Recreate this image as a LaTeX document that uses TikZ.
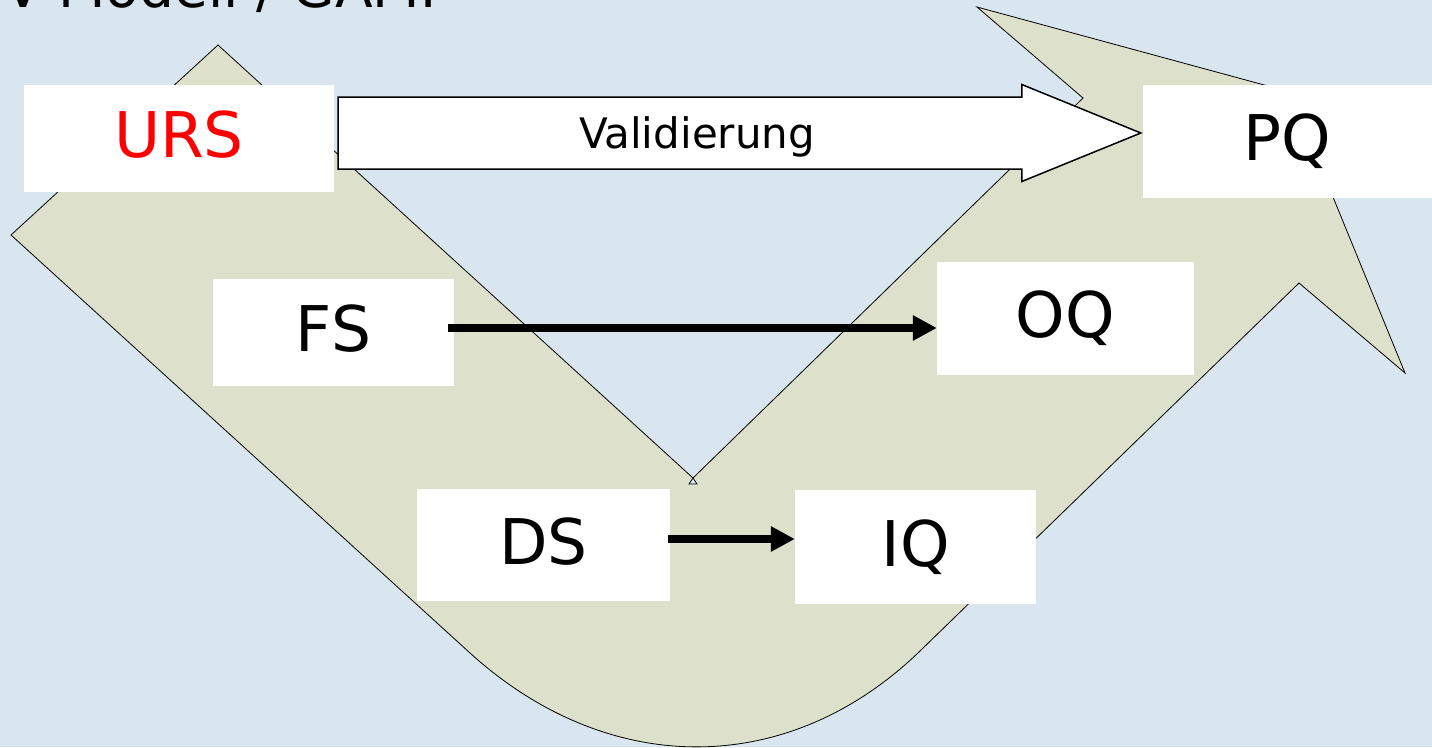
\documentclass[tikz,border=0pt]{standalone}
\usepackage{fontspec}
\setmainfont{DejaVu Sans}
\usetikzlibrary{arrows.meta,calc}
\definecolor{bgblue}{RGB}{217,229,239}
\definecolor{vband}{RGB}{221,225,203}
\definecolor{ursred}{RGB}{255,0,0}
\begin{document}
\begin{tikzpicture}[x=1pt,y=-1pt,
  box/.style={fill=white, inner sep=0pt, text depth=8pt,
    font=\fontsize{63}{70}\selectfont},
  flow/.style={line width=8pt, -{Triangle[length=24pt,width=24pt]}},
  valarrow/.style={draw=black, fill=white, line width=1.5pt, line join=miter},
  vshape/.style={fill=vband, draw=black, line width=0.8pt, even odd rule}]
\useasboundingbox (0,0) rectangle (1432,747);
\fill[bgblue] (0,0) rectangle (1432,747);
\clip (0,0) rectangle (1432,747);

% heading
\node[anchor=base west, inner sep=0pt, font=\fontsize{55}{60}\selectfont]
  (title) at (4,7.5) {V-Modell / GAMP};

% the V band with its arrow head
\draw[vshape] (218,45) -- (693,478) -- (697,484) -- (689,484) -- (693,478)
  -- (1083,98) -- (977,7) -- (1290,92) -- (1405,373) -- (1299,283)
  -- (920,651) .. controls (789,778) and (609,779) .. (470,653)
  -- (11,235) -- cycle;

% specification and qualification boxes
\node[box, minimum width=310pt, minimum height=107pt, text=ursred] (urs) at (179,138.5) {URS};
\node[box, minimum width=289pt, minimum height=113pt] (pq) at (1287.5,141.5) {PQ};
\node[box, minimum width=241pt, minimum height=107pt] (fs) at (333.5,332.5) {FS};
\node[box, minimum width=257pt, minimum height=113pt] (oq) at (1065.5,318.5) {OQ};
\node[box, minimum width=253pt, minimum height=112pt] (ds) at (543.5,545) {DS};
\node[box, minimum width=241pt, minimum height=114pt] (iq) at (915.5,547) {IQ};

% Validierung block arrow from URS to PQ
\coordinate (vs) at ($(urs.east)+(4,-5.5)$);
\path (vs -| pq.west) ++(-2,0) coordinate (ve);
\draw[valarrow] ($(vs)+(0,-36)$) -- ($(ve)+(-119,-36)$) -- ($(ve)+(-119,-48.5)$)
  -- (ve) -- ($(ve)+(-119,48.5)$) -- ($(ve)+(-119,36)$) -- ($(vs)+(0,36)$) -- cycle;
\node[anchor=base, inner sep=0pt, font=\fontsize{42}{46}\selectfont]
  (val) at (697,148) {Validierung};

% verification arrows
\draw[flow] ($(fs.east)+(-6,-4.5)$) -- ($(oq.west)+(0,9.5)$);
\draw[flow] ($(ds.east)+(-2,-6)$) -- ($(iq.west)+(0,-8)$);
\end{tikzpicture}
\end{document}
